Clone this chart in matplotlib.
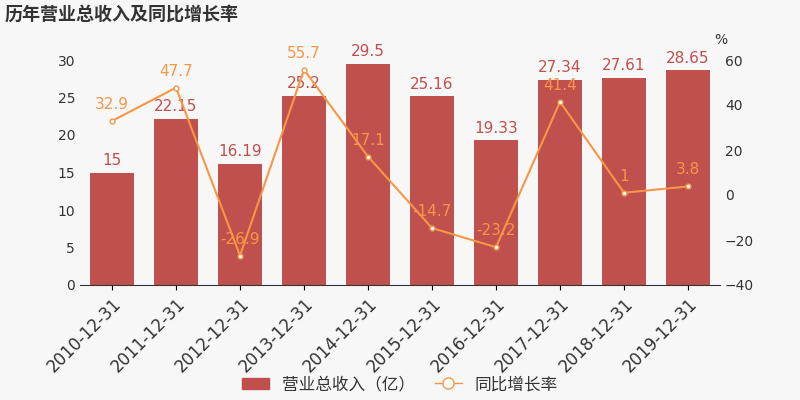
import matplotlib
matplotlib.use("Agg")
import matplotlib.pyplot as plt
from matplotlib.lines import Line2D
from matplotlib.patches import Patch

plt.rcParams['font.family'] = ['DejaVu Sans', 'Noto Sans CJK SC']

categories = ["2010-12-31","2011-12-31","2012-12-31","2013-12-31","2014-12-31",
              "2015-12-31","2016-12-31","2017-12-31","2018-12-31","2019-12-31"]
revenue = [15, 22.15, 16.19, 25.2, 29.5, 25.16, 19.33, 27.34, 27.61, 28.65]
growth = [32.9, 47.7, -26.9, 55.7, 17.1, -14.7, -23.2, 41.4, 1, 3.8]
rev_labels = ["15","22.15","16.19","25.2","29.5","25.16","19.33","27.34","27.61","28.65"]
gr_labels = ["32.9","47.7","-26.9","55.7","17.1","-14.7","-23.2","41.4","1","3.8"]

bg = "#f7f7f7"
bar_c = "#c0504d"
line_c = "#f79646"
fig = plt.figure(figsize=(8, 4), dpi=100, facecolor=bg)
ax = fig.add_axes([0.1, 0.2875, 0.8, 0.5625], facecolor=bg)
x = list(range(len(categories)))
ax.bar(x, revenue, width=0.7, color=bar_c, zorder=2)
for xi, v, l in zip(x, revenue, rev_labels):
    ax.text(xi, v + 0.6, l, ha='center', va='bottom', color=bar_c, fontsize=11)
ax.set_ylim(0, 30)
ax.set_yticks(range(0, 31, 5))
ax.set_xlim(-0.5, 9.5)
ax.set_xticks(x)
ax.set_xticklabels(categories, rotation=45, ha='right', rotation_mode='anchor', fontsize=12, color='#333333')
ax.tick_params(axis='y', labelsize=10, colors='#333333', length=0)
for s in ['top', 'right', 'left']:
    ax.spines[s].set_visible(False)
ax.spines['bottom'].set_color('#333333')

ax2 = ax.twinx()
ax2.plot(x, growth, color=line_c, lw=1.5, marker='o', ms=3.5, mfc='white', mec=line_c, zorder=3)
for xi, v, l in zip(x, growth, gr_labels):
    ax2.text(xi, v + 4, l, ha='center', va='bottom', color=line_c, fontsize=11)
ax2.set_ylim(-40, 60)
ax2.set_yticks(range(-40, 61, 20))
ax2.tick_params(axis='y', labelsize=10, colors='#333333', length=0)
for s in ax2.spines.values():
    s.set_visible(False)
fig.text(0.893, 0.89, "%", fontsize=10, color='#333333')

fig.text(0.006, 0.965, "历年营业总收入及同比增长率", fontsize=13, fontweight='bold', color='#333333', va='center',
         family=['Noto Sans CJK SC'])

handles = [Patch(color=bar_c),
           Line2D([0], [0], color=line_c, marker='o', mfc='white', mec=line_c, ms=8, lw=1)]
fig.legend(handles, ["营业总收入（亿）", "同比增长率"], loc='center', bbox_to_anchor=(0.5, 0.038),
           ncol=2, frameon=False, prop={'family': ['Noto Sans CJK SC'], 'size': 12},
           handlelength=1.6, columnspacing=1.2, labelcolor='#333333')
fig.savefig("out.png", dpi=100, facecolor=bg)
